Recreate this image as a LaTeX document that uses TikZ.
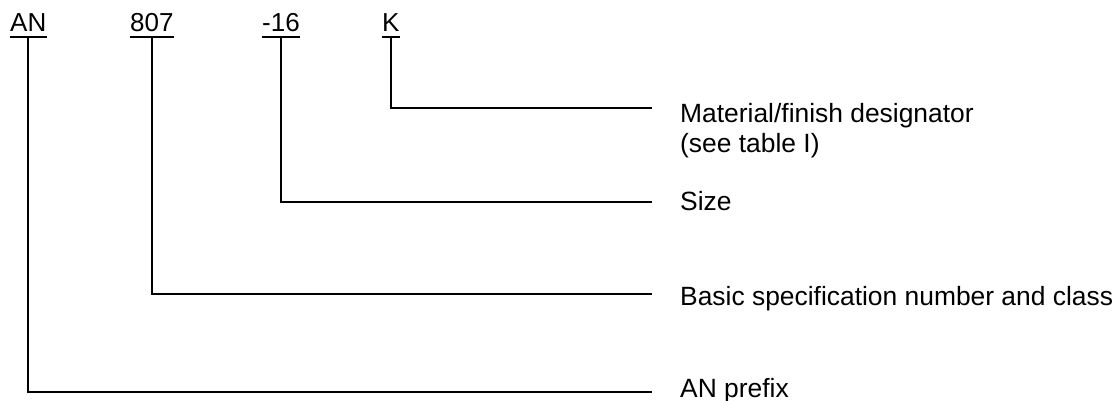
\documentclass[tikz,border=0pt]{standalone}
\usepackage{fontspec}
\setmainfont{Liberation Sans}
\begin{document}
\begin{tikzpicture}[x=1pt,y=-1pt,
  lbl/.style={inner sep=0pt, anchor=base west, font=\fontsize{26}{30}\selectfont},
  txt/.style={inner sep=0pt, anchor=base west, align=left, font=\fontsize{26.4}{30}\selectfont},
  conn/.style={line width=1.8pt},
  uline/.style={line width=1.8pt},
]
\useasboundingbox (0,0) rectangle (1117,401);
% code parts
\node[lbl] (an) at (10,32) {AN};
\node[lbl] (n807) at (130,32) {807};
\node[lbl] (n16) at (262,32) {-16};
\node[lbl] (k) at (382,32) {K};
% underlines
\foreach \n in {an,n807,n16,k}{
  \draw[uline] ([yshift=-5pt]\n.base west) -- ([yshift=-5pt]\n.base east);
  \coordinate (\n0) at ([yshift=-5pt]\n.base);
}
% descriptions
\node[txt] (tmat) at (680,153) {Material/finish designator\\(see table I)};
\node[txt] (tsize) at (680,211) {Size};
\node[txt] (tbasic) at (680,305) {Basic specification number and class};
\node[txt] (tpref) at (680,397) {AN prefix};
% line ends
\coordinate (ek) at (652,108);
\coordinate (e16) at (652,202);
\coordinate (e807) at (652,294);
\coordinate (ean) at (652,392);
% connectors
\draw[conn] (k0) |- (ek);
\draw[conn] (n160) |- (e16);
\draw[conn] (n8070) |- (e807);
\draw[conn] (an0) |- (ean);
\end{tikzpicture}
\end{document}
